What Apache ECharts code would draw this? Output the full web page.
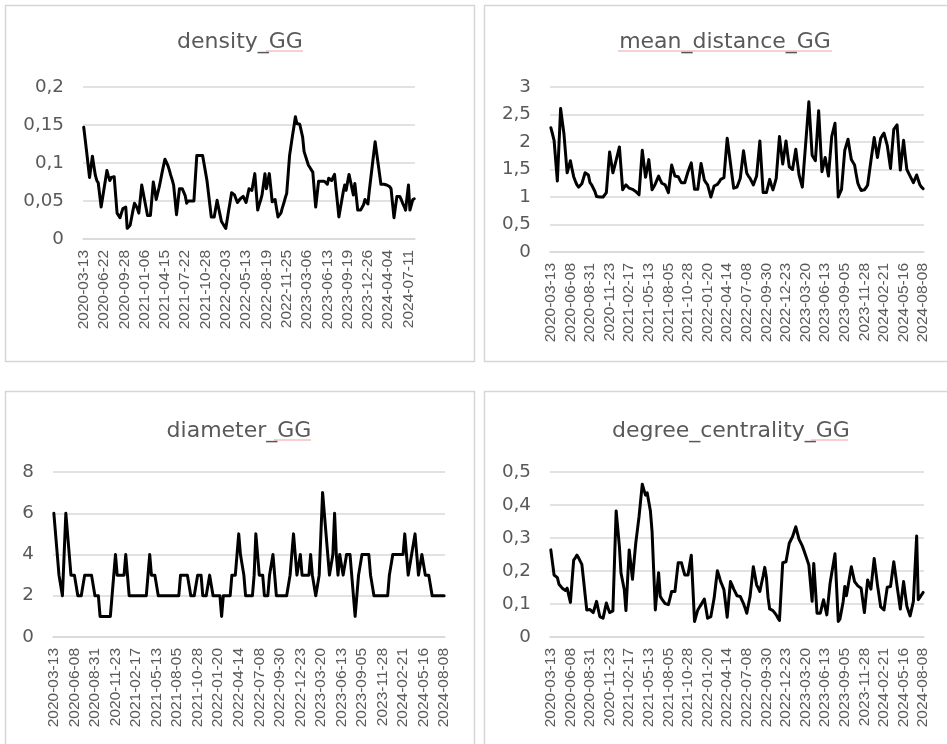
<!DOCTYPE html>
<html><head><meta charset="utf-8">
<script src="https://cdn.jsdelivr.net/npm/echarts@6/dist/echarts.min.js"></script>
<style>html,body{margin:0;padding:0;background:#fff}#c{width:947px;height:744px}</style>
</head><body><div id="c"></div>
<script>
const categories = [
'2020-03-13','2020-03-20','2020-03-27','2020-04-03','2020-04-10','2020-04-17','2020-04-24','2020-05-01','2020-05-08','2020-05-15',
'2020-05-22','2020-05-29','2020-06-08','2020-06-15','2020-06-22','2020-06-29','2020-07-06','2020-07-13','2020-07-20','2020-07-27',
'2020-08-03','2020-08-10','2020-08-17','2020-08-24','2020-08-31','2020-09-07','2020-09-14','2020-09-21','2020-09-28','2020-10-05',
'2020-10-12','2020-10-19','2020-10-26','2020-11-02','2020-11-09','2020-11-16','2020-11-23','2020-11-30','2020-12-07','2020-12-14',
'2020-12-21','2020-12-28','2021-01-06','2021-01-13','2021-01-20','2021-01-27','2021-02-03','2021-02-10','2021-02-17','2021-02-24',
'2021-03-03','2021-03-10','2021-03-17','2021-03-24','2021-03-31','2021-04-07','2021-04-15','2021-04-22','2021-04-29','2021-05-06',
'2021-05-13','2021-05-20','2021-05-27','2021-06-03','2021-06-10','2021-06-17','2021-06-24','2021-07-01','2021-07-08','2021-07-15',
'2021-07-22','2021-07-29','2021-08-05','2021-08-12','2021-08-19','2021-08-26','2021-09-02','2021-09-09','2021-09-16','2021-09-23',
'2021-09-30','2021-10-07','2021-10-14','2021-10-21','2021-10-28','2021-11-04','2021-11-11','2021-11-18','2021-11-25','2021-12-02',
'2021-12-09','2021-12-16','2021-12-23','2021-12-30','2022-01-06','2022-01-13','2022-01-20','2022-01-27','2022-02-03','2022-02-10',
'2022-02-17','2022-02-24','2022-03-03','2022-03-10','2022-03-17','2022-03-24','2022-03-31','2022-04-07','2022-04-14','2022-04-21',
'2022-04-28','2022-05-05','2022-05-13','2022-05-20','2022-05-27','2022-06-03','2022-06-10','2022-06-17','2022-06-24','2022-07-01',
'2022-07-08','2022-07-15','2022-07-22','2022-07-29','2022-08-05','2022-08-12','2022-08-19','2022-08-26','2022-09-02','2022-09-09',
'2022-09-16','2022-09-23','2022-09-30','2022-10-07','2022-10-14','2022-10-21','2022-10-28','2022-11-04','2022-11-11','2022-11-18',
'2022-11-25','2022-12-02','2022-12-09','2022-12-16','2022-12-23','2022-12-30','2023-01-06','2023-01-13','2023-01-20','2023-01-27',
'2023-02-03','2023-02-10','2023-02-17','2023-02-24','2023-03-06','2023-03-13','2023-03-20','2023-03-27','2023-04-03','2023-04-10',
'2023-04-17','2023-04-24','2023-05-01','2023-05-08','2023-05-15','2023-05-22','2023-05-29','2023-06-05','2023-06-13','2023-06-20',
'2023-06-27','2023-07-04','2023-07-11','2023-07-18','2023-07-25','2023-08-01','2023-08-08','2023-08-15','2023-08-22','2023-08-29',
'2023-09-05','2023-09-12','2023-09-19','2023-09-26','2023-10-03','2023-10-10','2023-10-17','2023-10-24','2023-10-31','2023-11-07',
'2023-11-14','2023-11-21','2023-11-28','2023-12-05','2023-12-12','2023-12-19','2023-12-26','2024-01-02','2024-01-09','2024-01-16',
'2024-01-23','2024-01-30','2024-02-06','2024-02-13','2024-02-21','2024-02-28','2024-03-06','2024-03-13','2024-03-20','2024-03-27',
'2024-04-04','2024-04-11','2024-04-18','2024-04-25','2024-05-02','2024-05-09','2024-05-16','2024-05-23','2024-05-30','2024-06-06',
'2024-06-13','2024-06-20','2024-06-27','2024-07-04','2024-07-11','2024-07-18','2024-07-25','2024-08-01','2024-08-08'
];

const densityGG = [
0.147,0.131,0.115,0.098,0.081,0.095,0.109,0.096,0.084,0.077,
0.074,0.058,0.042,0.054,0.066,0.078,0.090,0.083,0.077,0.081,
0.080,0.082,0.058,0.034,0.031,0.028,0.034,0.040,0.041,0.042,
0.014,0.016,0.018,0.028,0.038,0.047,0.044,0.040,0.034,0.052,
0.071,0.061,0.051,0.041,0.031,0.031,0.031,0.053,0.075,0.064,
0.052,0.060,0.068,0.077,0.087,0.096,0.105,0.101,0.097,0.091,
0.084,0.078,0.071,0.052,0.032,0.049,0.066,0.066,0.066,0.066,
0.057,0.047,0.050,0.052,0.050,0.048,0.050,0.052,0.110,0.110,
0.110,0.110,0.110,0.099,0.088,0.077,0.061,0.045,0.029,0.029,
0.029,0.029,0.051,0.041,0.032,0.023,0.020,0.017,0.014,0.026,
0.038,0.049,0.061,0.060,0.058,0.053,0.048,0.050,0.053,0.055,
0.056,0.056,0.048,0.057,0.066,0.065,0.064,0.075,0.086,0.062,
0.038,0.045,0.051,0.058,0.072,0.086,0.066,0.076,0.086,0.068,
0.049,0.051,0.052,0.040,0.029,0.031,0.034,0.041,0.047,0.054,
0.060,0.085,0.110,0.123,0.136,0.148,0.161,0.152,0.151,0.151,
0.153,0.134,0.115,0.109,0.103,0.097,0.094,0.091,0.088,0.065,
0.042,0.059,0.076,0.076,0.076,0.076,0.076,0.074,0.072,0.080,
0.078,0.077,0.081,0.085,0.066,0.048,0.029,0.040,0.051,0.062,
0.071,0.064,0.075,0.085,0.076,0.067,0.058,0.073,0.056,0.038,
0.038,0.038,0.038,0.045,0.052,0.049,0.046,0.064,0.080,0.096,
0.112,0.128,0.114,0.100,0.086,0.072,0.072,0.072,0.071,0.071,
0.071,0.069,0.066,0.047,0.028,0.042,0.056,0.056,0.056,0.052,
0.047,0.043,0.038,0.055,0.071,0.038,0.045,0.052,0.053
];

const meanDistanceGG = [
2.26,2.15,2.03,1.66,1.29,1.95,2.61,2.38,2.16,1.80,
1.44,1.55,1.66,1.51,1.37,1.29,1.22,1.18,1.21,1.24,
1.34,1.44,1.42,1.40,1.26,1.22,1.19,1.10,1.01,1.00,
1.00,1.00,1.00,1.04,1.08,1.45,1.82,1.63,1.44,1.55,
1.67,1.79,1.91,1.52,1.13,1.18,1.22,1.19,1.16,1.15,
1.14,1.12,1.10,1.07,1.04,1.45,1.85,1.60,1.36,1.52,
1.68,1.40,1.13,1.18,1.24,1.31,1.38,1.31,1.25,1.24,
1.22,1.15,1.08,1.33,1.58,1.48,1.38,1.37,1.37,1.31,
1.26,1.26,1.26,1.36,1.46,1.54,1.62,1.38,1.14,1.14,
1.14,1.38,1.61,1.46,1.31,1.26,1.22,1.11,1.00,1.10,
1.20,1.21,1.23,1.27,1.32,1.34,1.35,1.71,2.07,1.84,
1.61,1.38,1.16,1.17,1.18,1.26,1.34,1.59,1.84,1.63,
1.43,1.38,1.34,1.28,1.22,1.30,1.38,1.70,2.02,1.55,
1.08,1.08,1.08,1.20,1.32,1.22,1.13,1.23,1.34,1.72,
2.10,1.85,1.60,1.81,2.02,1.78,1.55,1.52,1.50,1.68,
1.87,1.63,1.40,1.29,1.18,1.57,1.95,2.34,2.73,2.24,
1.76,1.71,1.66,2.11,2.57,2.01,1.46,1.59,1.72,1.55,
1.38,1.74,2.10,2.22,2.34,1.67,1.00,1.07,1.14,1.50,
1.85,1.95,2.05,1.86,1.68,1.63,1.58,1.41,1.25,1.18,
1.12,1.12,1.13,1.17,1.22,1.44,1.66,1.87,2.08,1.90,
1.72,1.90,2.07,2.12,2.16,2.05,1.94,1.73,1.52,1.88,
2.23,2.27,2.31,1.90,1.49,1.76,2.03,1.75,1.50,1.44,
1.38,1.32,1.26,1.33,1.40,1.31,1.22,1.18,1.15
];

const diameterGG = [
6,5,4,3,3,2,4,6,5,4,
3,3,3,3,2,2,2,2,3,3,
3,3,3,3,2,2,2,1,1,1,
1,1,1,1,2,3,4,3,3,3,
3,3,4,3,2,2,2,2,2,2,
2,2,2,2,2,3,4,3,3,3,
3,2,2,2,2,2,2,2,2,2,
2,2,2,2,3,3,3,3,3,3,
2,2,2,2,3,3,3,2,2,2,
2,3,3,2,2,2,2,2,1,2,
2,2,2,2,3,3,3,4,5,4,
4,3,2,2,2,2,2,3,5,4,
3,3,3,2,2,2,3,3,4,3,
2,2,2,2,2,2,2,2,3,4,
5,4,3,3,4,3,3,3,3,3,
4,3,3,2,2,3,5,7,6,5,
4,3,3,4,6,4,3,4,4,3,
3,4,4,4,4,2,1,2,3,3,
4,4,4,4,4,3,3,2,2,2,
2,2,2,2,2,2,3,3,4,4,
4,4,4,4,4,5,4,3,3,4,
4,5,4,3,3,4,4,3,3,3,
3,2,2,2,2,2,2,2,2
];

const degreeCentralityGG = [
0.264,0.226,0.188,0.185,0.180,0.160,0.155,0.148,0.143,0.141,
0.148,0.126,0.105,0.170,0.233,0.240,0.248,0.240,0.230,0.220,
0.175,0.128,0.082,0.085,0.083,0.082,0.074,0.091,0.108,0.085,
0.062,0.060,0.057,0.080,0.103,0.088,0.074,0.076,0.079,0.230,
0.382,0.328,0.274,0.193,0.168,0.143,0.080,0.172,0.264,0.220,
0.175,0.230,0.284,0.324,0.364,0.413,0.463,0.446,0.430,0.437,
0.443,0.381,0.319,0.200,0.082,0.139,0.195,0.123,0.115,0.108,
0.101,0.100,0.098,0.118,0.138,0.138,0.138,0.182,0.225,0.225,
0.225,0.206,0.188,0.188,0.188,0.218,0.248,0.148,0.047,0.065,
0.082,0.090,0.098,0.107,0.115,0.086,0.057,0.060,0.062,0.090,
0.118,0.160,0.201,0.185,0.168,0.156,0.143,0.102,0.060,0.114,
0.168,0.157,0.145,0.135,0.125,0.124,0.123,0.112,0.101,0.087,
0.072,0.098,0.123,0.168,0.213,0.186,0.158,0.148,0.138,0.162,
0.185,0.211,0.180,0.120,0.085,0.083,0.080,0.074,0.067,0.058,
0.050,0.138,0.225,0.227,0.228,0.256,0.284,0.294,0.304,0.319,
0.334,0.315,0.296,0.286,0.276,0.262,0.248,0.233,0.218,0.163,
0.108,0.223,0.148,0.072,0.072,0.072,0.093,0.113,0.090,0.067,
0.115,0.163,0.193,0.222,0.252,0.150,0.047,0.054,0.060,0.107,
0.153,0.125,0.154,0.184,0.213,0.190,0.168,0.162,0.155,0.152,
0.148,0.111,0.074,0.124,0.173,0.159,0.145,0.192,0.238,0.198,
0.158,0.125,0.091,0.087,0.082,0.117,0.151,0.152,0.153,0.190,
0.228,0.192,0.155,0.120,0.085,0.127,0.168,0.130,0.093,0.078,
0.064,0.086,0.108,0.207,0.306,0.113,0.120,0.128,0.135
];

const titles = ['density_GG', 'mean_distance_GG', 'diameter_GG', 'degree_centrality_GG'];
const yMax = [0.2, 3, 8, 0.5];
const yStep = [0.05, 0.5, 2, 0.1];
const labelEvery = [14, 12, 12, 12];
const seriesData = [densityGG, meanDistanceGG, diameterGG, degreeCentralityGG];

// layout
const grids = [
  {left: 83, top: 87, width: 332, height: 152},
  {left: 550, top: 87, width: 374, height: 165},
  {left: 53, top: 472, width: 392, height: 165},
  {left: 550, top: 472, width: 374, height: 165}
];
const titlePos = [[240, 42], [725, 42], [239, 431], [731, 431]];
const panels = [[5.5, 5.5, 469, 356], [484.5, 5.5, 470, 356], [5.5, 391.5, 469, 400], [484.5, 391.5, 470, 400]];
const underlines = [[266, 303, 51], [618, 832, 51], [274, 311, 440], [811, 848, 440]];

const FONT = '"Liberation Sans", Arial, sans-serif';
const FONT_H = '"DejaVu Sans", "Liberation Sans", sans-serif';
const GRAY = '#595959';
const GRID = '#d9d9d9';

const fmt = v => String(+(+v).toFixed(3)).replace('.', ',');

const option = {
  animation: false,
  backgroundColor: '#ffffff',
  textStyle: {fontFamily: FONT},
  title: titles.map((t, i) => ({
    text: t, left: titlePos[i][0], top: titlePos[i][1], padding: 0,
    textAlign: 'center', textVerticalAlign: 'middle',
    textStyle: {fontSize: 22, fontWeight: 'normal', color: GRAY, fontFamily: FONT_H}
  })),
  grid: grids.map(g => Object.assign({containLabel: false}, g)),
  xAxis: grids.map((g, i) => ({
    type: 'category', gridIndex: i, data: categories, boundaryGap: true,
    axisTick: {show: false},
    axisLine: {show: true, lineStyle: {color: GRID, width: 1.5}},
    axisLabel: {rotate: 90, interval: labelEvery[i] - 1, fontSize: 15.5, color: GRAY, margin: 11, fontFamily: FONT, hideOverlap: false},
    splitLine: {show: false}
  })),
  yAxis: grids.map((g, i) => ({
    type: 'value', gridIndex: i, min: 0, max: yMax[i], interval: yStep[i],
    axisLine: {show: false}, axisTick: {show: false},
    axisLabel: {fontSize: 18.3, color: GRAY, margin: 19, formatter: fmt, fontFamily: FONT_H},
    splitLine: {show: true, lineStyle: {color: GRID, width: 1.5}}
  })),
  series: seriesData.map((d, i) => ({
    type: 'line', name: titles[i], xAxisIndex: i, yAxisIndex: i, data: d,
    showSymbol: false, symbol: 'none',
    lineStyle: {color: '#000000', width: 3, join: 'round', cap: 'round'},
    z: 3
  })),
  graphic: panels.map(p => ({
    type: 'rect', silent: true, z: -1,
    shape: {x: p[0], y: p[1], width: p[2], height: p[3]},
    style: {fill: null, stroke: '#d6d6d6', lineWidth: 1.5}
  })).concat(underlines.map(u => ({
    type: 'line', silent: true,
    shape: {x1: u[0], y1: u[2], x2: u[1], y2: u[2]},
    style: {stroke: '#f2a0a0', lineWidth: 1}
  })))
};

const chart = echarts.init(document.getElementById('c'), null, {renderer: 'canvas'});
chart.setOption(option);
</script>
</body></html>
